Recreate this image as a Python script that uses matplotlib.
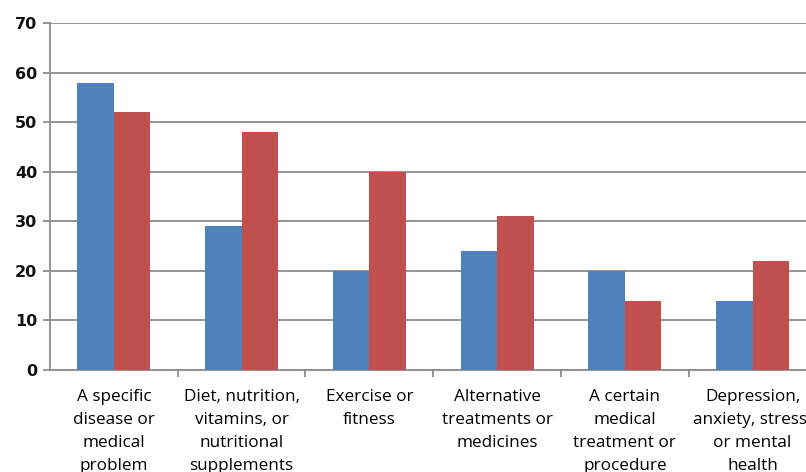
import matplotlib.pyplot as plt
import numpy as np

categories = [
    "A specific\ndisease or\nmedical\nproblem",
    "Diet, nutrition,\nvitamins, or\nnutritional\nsupplements",
    "Exercise or\nfitness",
    "Alternative\ntreatments or\nmedicines",
    "A certain\nmedical\ntreatment or\nprocedure",
    "Depression,\nanxiety, stress,\nor mental\nhealth",
]
blue_values = [58, 29, 20, 24, 20, 14]
red_values = [52, 48, 40, 31, 14, 22]

fig = plt.figure(figsize=(8.06, 4.72), dpi=100)
ax = fig.add_axes([0.062, 0.216, 0.951, 0.735])

x = np.arange(len(categories))
w = 0.286
ax.bar(x - w / 2, blue_values, w, color="#4F81BD", zorder=3)
ax.bar(x + w / 2, red_values, w, color="#C0504D", zorder=3)

ax.set_xlim(-0.5, len(categories) - 0.5)
ax.set_ylim(0, 70)
ax.set_yticks(range(0, 71, 10))
ax.grid(axis="y", color="#8c8c8c", linewidth=1.3, zorder=0)

for side in ["top", "right"]:
    ax.spines[side].set_visible(False)
for side in ["left", "bottom"]:
    ax.spines[side].set_color("#8c8c8c")
    ax.spines[side].set_linewidth(1.3)

ax.set_xticks(x)
ax.set_xticklabels(categories, fontsize=12.3, family="Open Sans", linespacing=1.58,
                   color="#000000")
ax.set_xticks(np.arange(0.5, len(categories) - 0.5, 1), minor=True)
ax.tick_params(axis="x", which="major", length=0, pad=14)
ax.tick_params(axis="x", which="minor", length=5, color="#8c8c8c", width=1.3)
ax.tick_params(axis="y", length=5, color="#8c8c8c", width=1.3, labelsize=11.5, pad=4)
for lab in ax.get_yticklabels():
    lab.set_fontweight("bold")
    lab.set_color("#111111")

fig.savefig("out.png", dpi=100)
